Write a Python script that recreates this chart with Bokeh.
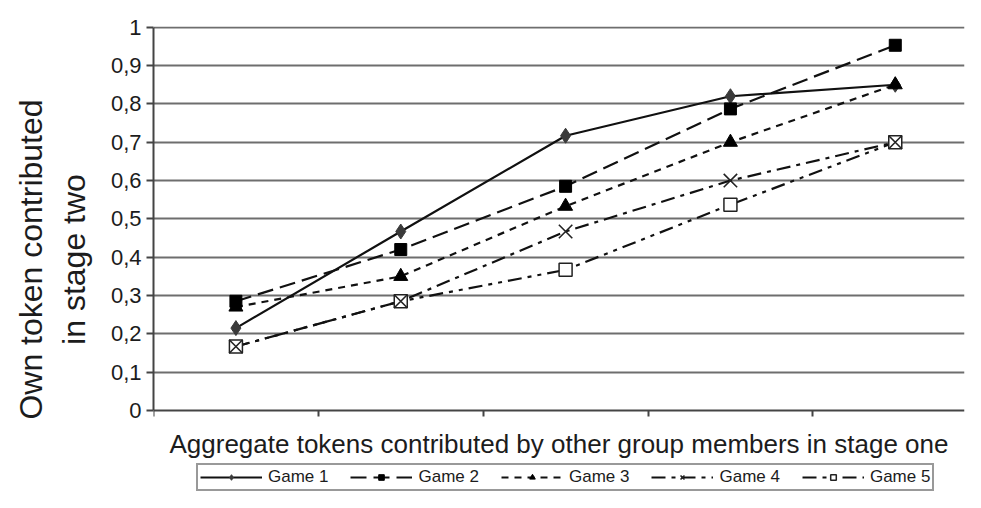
from bokeh.plotting import figure
from bokeh.models import Range1d, FixedTicker, CustomJSTickFormatter, Legend, LegendItem
from bokeh.embed import file_html
from bokeh.resources import INLINE

# ---- data ----
groups = [1, 2, 3, 4, 5]
game1 = [0.215, 0.467, 0.717, 0.820, 0.850]
game2 = [0.285, 0.420, 0.585, 0.787, 0.953]
game3 = [0.270, 0.350, 0.533, 0.700, 0.850]
game4 = [0.167, 0.285, 0.467, 0.600, 0.700]
game5 = [0.167, 0.285, 0.367, 0.537, 0.700]
series_names = ["Game 1", "Game 2", "Game 3", "Game 4", "Game 5"]
y_ticks = [0, 0.1, 0.2, 0.3, 0.4, 0.5, 0.6, 0.7, 0.8, 0.9, 1.0]
x_boundaries = [0.5, 1.5, 2.5, 3.5, 4.5, 5.5]

FONT = "Liberation Sans"
TXT = "#1c1c1c"
INK = "#111111"
AX = "#444444"

# frame runs to the bottom of the figure so that the legend can sit under the axis title
p = figure(width=965, height=492, x_range=Range1d(0.5, 5.42), y_range=Range1d(-0.214, 1.002),
           output_backend="svg", toolbar_location=None,
           min_border_left=153, min_border_right=1, min_border_top=26, min_border_bottom=0)
p.outline_line_color = None
p.background_fill_color = "white"

# x axis, pinned at y = 0
p.xaxis.fixed_location = 0
p.xaxis.ticker = FixedTicker(ticks=x_boundaries)
p.xaxis.formatter = CustomJSTickFormatter(code="return '';")
p.xaxis.major_label_text_font_size = "1px"
p.xaxis.major_tick_out = 6
p.xaxis.major_tick_in = 0
p.xaxis.minor_tick_line_color = None
p.xaxis.axis_line_width = 2
p.xaxis.axis_line_color = AX
p.xaxis.major_tick_line_color = AX
p.xaxis.major_tick_line_width = 2
p.xaxis.axis_label = "Aggregate tokens contributed by other group members in stage one"
p.xaxis.axis_label_text_font = FONT
p.xaxis.axis_label_text_font_style = "normal"
p.xaxis.axis_label_text_font_size = "26px"
p.xaxis.axis_label_text_color = TXT
p.xaxis.axis_label_standoff = 12

# y axis
p.yaxis.bounds = (0, 1)
p.yaxis.ticker = FixedTicker(ticks=y_ticks)
p.yaxis.formatter = CustomJSTickFormatter(
    code="if (Math.abs(tick) < 1e-9) return '0'; if (Math.abs(tick-1) < 1e-9) return '1'; return tick.toFixed(1).replace('.', ',');")
p.yaxis.major_label_text_font = FONT
p.yaxis.major_label_text_font_size = "22px"
p.yaxis.major_label_text_color = TXT
p.yaxis.major_tick_out = 7
p.yaxis.major_tick_in = 0
p.yaxis.minor_tick_line_color = None
p.yaxis.axis_line_width = 2
p.yaxis.axis_line_color = AX
p.yaxis.major_tick_line_color = AX
p.yaxis.major_tick_line_width = 2
p.yaxis.major_label_standoff = 5
p.yaxis.axis_label = "Own token contributed\nin stage two"
p.yaxis.axis_label_text_font = FONT
p.yaxis.axis_label_text_font_style = "normal"
p.yaxis.axis_label_text_font_size = "32px"
p.yaxis.axis_label_text_color = TXT
p.yaxis.axis_label_standoff = 16

p.xgrid.grid_line_color = None
p.ygrid.ticker = FixedTicker(ticks=y_ticks[1:])
p.ygrid.grid_line_color = "#6e6e6e"
p.ygrid.grid_line_width = 2

series = [game1, game2, game3, game4, game5]
dashes = ["solid", "16 7", "7 6", "14 6 4 6", "14 6 4 6 4 6"]
line_rs = []
for i, ys in enumerate(series):
    line_rs.append(p.line(groups, ys, line_color=INK, line_width=2.2, line_dash=dashes[i]))

m1 = p.scatter(groups, game1, marker="diamond", size=15, fill_color="#3a3a3a", line_color="#3a3a3a")
m2 = p.scatter(groups, game2, marker="square", size=12, fill_color="#000000", line_color="#000000")
m3 = p.scatter(groups, game3, marker="triangle", size=14, fill_color="#000000", line_color="#000000")
m5 = p.scatter(groups, game5, marker="square", size=13, fill_color="white", line_color="#222222", line_width=1.5)
m4 = p.scatter(groups, game4, marker="x", size=19, line_color="#222222", line_width=1.6)
marker_rs = [m1, m2, m3, m4, m5]

items = [LegendItem(label=series_names[i], renderers=[line_rs[i], marker_rs[i]]) for i in range(5)]
legend = Legend(items=items, orientation="horizontal", location=(43, 1),
                label_text_font=FONT, label_text_font_size="17px", label_text_color=TXT,
                glyph_width=62, glyph_height=14, label_standoff=6, spacing=22,
                padding=2, margin=0, label_height=15,
                border_line_color="#333333", border_line_width=2,
                background_fill_color="white")
p.add_layout(legend)

open("out.html", "w").write(file_html(p, INLINE))
